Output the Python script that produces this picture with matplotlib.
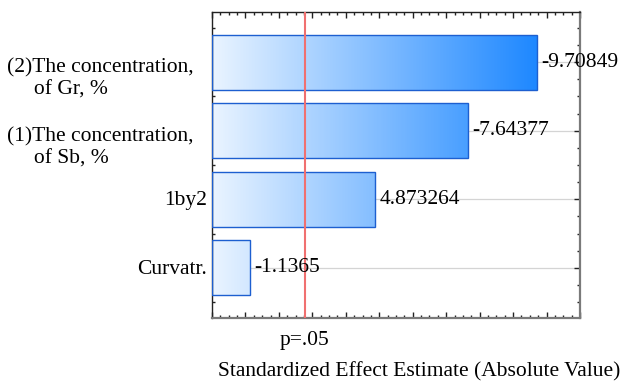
import numpy as np
import matplotlib
matplotlib.use('Agg')
import matplotlib.pyplot as plt
from matplotlib.colors import LinearSegmentedColormap
from matplotlib.ticker import MultipleLocator, NullFormatter
import matplotlib.transforms as mtransforms

plt.rcParams['font.family'] = ['Liberation Serif', 'DejaVu Serif']

# data (bottom to top)
labels = ['Curvatr.', '1by2', '(1)The concentration,\n     of Sb, %', '(2)The concentration,\n     of Gr, %']
effects = [-1.1365, 4.873264, -7.64377, -9.70849]
value_text = ['-1.1365', '4.873264', '-7.64377', '-9.70849']
t_crit = 2.776  # p=.05

FS = 15.5
fig = plt.figure(figsize=(6.22, 3.81), dpi=100)
ax = fig.add_axes([212 / 622, 1 - 318 / 381, 368 / 622, 306 / 381])

ypos = np.arange(len(effects))
absval = np.abs(effects)
vmax = absval.max()
h = 0.8

cmap = LinearSegmentedColormap.from_list('blu', ['#eaf4ff', '#1e88ff'])

# horizontal grid at bar centers
for y in ypos:
    ax.axhline(y, color='#d4d4d4', lw=0.9, zorder=0)

bars = ax.barh(ypos, absval, height=h, facecolor='none', edgecolor='#1d5fd0', lw=1.0, zorder=3)
for y, v in zip(ypos, absval):
    grad = np.linspace(0, v / vmax, 256).reshape(1, -1)
    ax.imshow(grad, extent=[0, v, y - h / 2, y + h / 2], cmap=cmap, vmin=0, vmax=1,
              aspect='auto', zorder=2, interpolation='bilinear')

down = mtransforms.ScaledTranslation(0, -1.5 / 100, fig.dpi_scale_trans)
for y, v, s in zip(ypos, absval, value_text):
    ax.annotate(s, xy=(v, y), xytext=(3, 0), textcoords='offset points',
                va='center', ha='left', fontsize=FS, zorder=5)

ax.axvline(t_crit, color='#f07070', lw=1.5, zorder=4)

ax.set_xlim(0, 11)
ax.set_ylim(-0.73, 3.73)
ax.set_aspect('auto')

ax.xaxis.set_major_locator(MultipleLocator(1))
ax.xaxis.set_minor_locator(MultipleLocator(0.25))
ax.yaxis.set_major_locator(MultipleLocator(1))
ax.yaxis.set_minor_locator(MultipleLocator(0.25))
ax.xaxis.set_major_formatter(NullFormatter())
ax.yaxis.set_major_formatter(NullFormatter())
ax.tick_params(which='both', direction='in', top=True, right=True, color='#222222')
ax.tick_params(which='major', length=4, width=1)
ax.tick_params(which='minor', length=2.5, width=1)

for side in ['left', 'top']:
    ax.spines[side].set_color('#222222')
    ax.spines[side].set_linewidth(1.0)
for side in ['right', 'bottom']:
    ax.spines[side].set_color('#7a7a7a')
    ax.spines[side].set_linewidth(1.6)

# category labels
trans = mtransforms.blended_transform_factory(fig.transFigure, ax.transData)
up = mtransforms.ScaledTranslation(0, 3.5 / 100, fig.dpi_scale_trans)
for y, lab in zip(ypos, labels):
    if '\n' in lab:
        ax.text(7 / 622, y, lab, transform=trans + up, ha='left', va='top', fontsize=FS,
                multialignment='left', linespacing=1.2)
    else:
        ax.text(207 / 622, y, lab, transform=trans + down, ha='right', va='center', fontsize=FS)

# p=.05 label
tr2 = mtransforms.blended_transform_factory(ax.transData, fig.transFigure)
ax.text(t_crit, 1 - 341 / 381, 'p=.05', transform=tr2, ha='center', va='center', fontsize=FS)

fig.text(419 / 622, 1 - 372 / 381, 'Standardized Effect Estimate (Absolute Value)',
         ha='center', va='center', fontsize=FS)

fig.savefig('out.png', dpi=100)
